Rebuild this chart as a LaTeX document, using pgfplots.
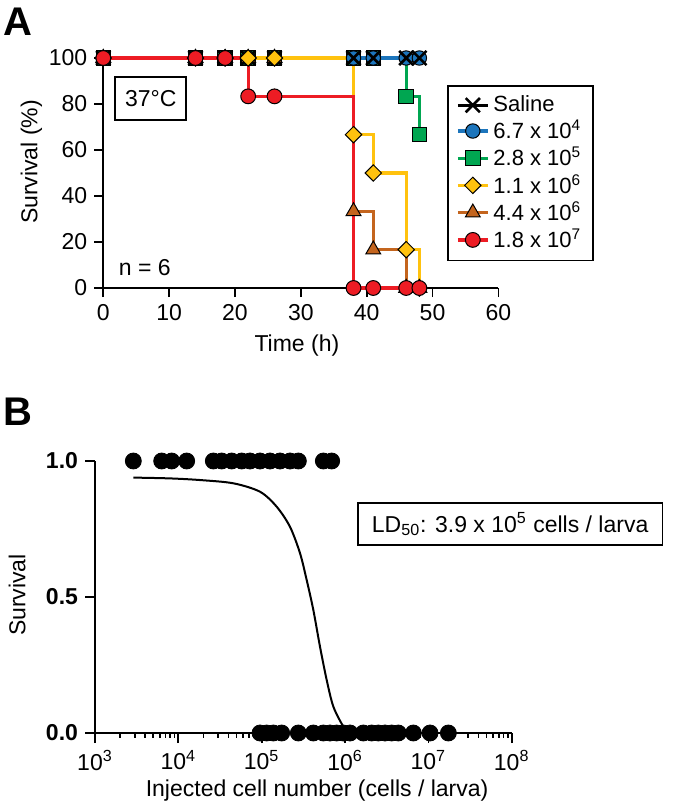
\documentclass[border=0pt]{standalone}
\usepackage{fontspec}
\setmainfont{Liberation Sans}
\usepackage{pgfplots}
\pgfplotsset{compat=1.18}

\definecolor{myred}{RGB}{237,28,36}
\definecolor{myyellow}{RGB}{255,194,14}
\definecolor{mygreen}{RGB}{0,166,81}
\definecolor{mybrown}{RGB}{196,101,30}
\definecolor{myblue}{RGB}{28,117,188}

\newcommand{\fs}{\fontsize{11.5}{13.5}\selectfont}

\begin{document}
\begin{tikzpicture}[x=1pt,y=1pt]
\path[use as bounding box] (0,0) rectangle (342.5,405.5);
\node[font=\fontsize{20}{24}\selectfont\bfseries] at (9,394.5) {A};
\node[font=\fontsize{20}{24}\selectfont\bfseries] at (9,199.5) {B};

\begin{axis}[
  at={(51.65pt,261.5pt)}, anchor=south west,
  scale only axis, width=197.55pt, height=115pt,
  xmin=0, xmax=60, ymin=0, ymax=100,
  axis lines=left, axis line style={-, line width=0.85pt},
  xtick={0,10,...,60}, ytick={0,20,...,100},
  tick align=outside, major tick length=4.5pt,
  tick style={line width=0.85pt, black},
  clip=false,
  ticklabel style={font=\fs},
  /pgf/number format/assume math mode=true,
  xlabel={Time (h)}, ylabel={Survival (\%)},
  xlabel style={at={(axis description cs:0.49,-0.25)}, anchor=center, font=\fs},
  ylabel style={at={(axis description cs:-0.182,0.548)}, anchor=center, font=\fs},
  legend style={at={(axis description cs:0.871,0.883)}, anchor=north west,
    draw=black, line width=0.8pt, font=\fontsize{11}{13}\selectfont,
    row sep=-1.2pt, inner xsep=4pt, inner ysep=3pt,
    cells={anchor=west}},
  legend image code/.code={\draw[mark repeat=2,mark phase=2,#1] plot coordinates {(0pt,0pt) (7.5pt,0pt) (15pt,0pt)};},
]
% legend entries
\addlegendimage{black, line width=1.6pt, mark=x, mark size=5pt, mark options={line width=1.3pt}}
\addlegendentry{Saline}
\addlegendimage{myblue, line width=1.6pt, mark=*, mark size=3.6pt, mark options={fill=myblue, draw=black, line width=0.5pt}}
\addlegendentry{6.7 x 10\textsuperscript{4}}
\addlegendimage{mygreen, line width=1.6pt, mark=square*, mark size=3.6pt, mark options={fill=mygreen, draw=black, line width=0.5pt}}
\addlegendentry{2.8 x 10\textsuperscript{5}}
\addlegendimage{myyellow, line width=1.6pt, mark=square*, mark size=2.9pt, mark options={rotate=45, fill=myyellow, draw=black, line width=0.5pt}}
\addlegendentry{1.1 x 10\textsuperscript{6}}
\addlegendimage{mybrown, line width=1.6pt, mark=triangle*, mark size=4.3pt, mark options={fill=mybrown, draw=black, line width=0.5pt}}
\addlegendentry{4.4 x 10\textsuperscript{6}}
\addlegendimage{myred, line width=1.6pt, mark=*, mark size=3.7pt, mark options={fill=myred, draw=black, line width=0.5pt}}
\addlegendentry{1.8 x 10\textsuperscript{7}}

% saline line
\addplot[forget plot, black, line width=1.6pt, const plot] coordinates {
(0,100) (14,100) (18.5,100) (22,100) (26,100) (38,100) (41,100) (46,100) (48,100)};
% green 2.8e5
\addplot[forget plot, mygreen, line width=1.6pt, const plot, mark=square*, mark size=3.6pt, mark options={fill=mygreen, draw=black, line width=0.5pt}] coordinates {
(0,100) (14,100) (18.5,100) (22,100) (26,100) (38,100) (41,100) (46,83.33) (48,66.67)};
% blue 6.7e4
\addplot[forget plot, myblue, line width=1.6pt, const plot, mark=*, mark size=3.6pt, mark options={fill=myblue, draw=black, line width=0.5pt}] coordinates {
(0,100) (14,100) (18.5,100) (22,100) (26,100) (38,100) (41,100) (46,100) (48,100)};
% saline marks
\addplot[forget plot, only marks, black, mark=x, mark size=5pt, mark options={line width=1.3pt}] coordinates {
(0,100) (14,100) (18.5,100) (22,100) (26,100) (38,100) (41,100) (46,100) (48,100)};
% brown 4.4e6
\addplot[forget plot, mybrown, line width=1.6pt, const plot, mark=triangle*, mark size=4.3pt, mark options={fill=mybrown, draw=black, line width=0.5pt}] coordinates {
(0,100) (14,100) (18.5,100) (22,100) (26,100) (38,33.33) (41,16.67) (46,0) (48,0)};
% yellow 1.1e6
\addplot[forget plot, myyellow, line width=1.6pt, const plot, mark=square*, mark size=2.9pt, mark options={rotate=45, fill=myyellow, draw=black, line width=0.5pt}] coordinates {
(0,100) (14,100) (18.5,100) (22,100) (26,100) (38,66.67) (41,50) (46,16.67) (48,0)};
% red 1.8e7
\addplot[forget plot, myred, line width=1.6pt, const plot, mark=*, mark size=3.7pt, mark options={fill=myred, draw=black, line width=0.5pt}] coordinates {
(0,100) (14,100) (18.5,100) (22,83.33) (26,83.33) (38,0) (41,0) (46,0) (48,0)};

\node[draw, line width=0.8pt, minimum width=35.5pt, minimum height=21.5pt, inner sep=1pt, font=\fs] at (axis cs:7.2,82.4) {37°C};
\node[font=\fs] at (axis cs:6.3,8.7) {n = 6};
\end{axis}

\begin{axis}[
  at={(47.5pt,39pt)}, anchor=south west,
  scale only axis, width=208.35pt, height=136pt,
  xmode=log, xmin=1e3, xmax=1e8, ymin=0, ymax=1,
  axis lines=left, axis line style={-, line width=0.85pt},
  xtick={1e3,1e4,1e5,1e6,1e7,1e8},
  xticklabels={10\textsuperscript{3},10\textsuperscript{4},10\textsuperscript{5},10\textsuperscript{6},10\textsuperscript{7},10\textsuperscript{8}},
  minor xtick={2000,3000,4000,5000,6000,7000,8000,9000,
    20000,30000,40000,50000,60000,70000,80000,90000,
    200000,300000,400000,500000,600000,700000,800000,900000,
    2000000,3000000,4000000,5000000,6000000,7000000,8000000,9000000,
    20000000,30000000,40000000,50000000,60000000,70000000,80000000,90000000},
  ytick={0,0.5,1}, yticklabels={\textbf{0.0},\textbf{0.5},\textbf{1.0}},
  tick align=outside, major tick length=5pt, minor tick length=2.5pt,
  tick style={line width=0.85pt, black},
  clip=false,
  ticklabel style={font=\fs},
  /pgf/number format/assume math mode=true,
  xlabel={Injected cell number (cells / larva)}, ylabel={Survival},
  xlabel style={at={(axis description cs:0.533,-0.213)}, anchor=center, font=\fs},
  ylabel style={at={(axis description cs:-0.187,0.507)}, anchor=center, font=\fs},
]
\addplot[black, line width=1pt, smooth, tension=0.5] coordinates {
(2884,0.939) (7943,0.936) (18197,0.930) (45709,0.918) (95499,0.887)
(151356,0.832) (218776,0.758) (288403,0.661) (346737,0.5625) (416869,0.452)
(501187,0.317) (602560,0.195) (724436,0.097) (954993,0.023) (1096478,0.0)};
\addplot[only marks, mark=*, mark size=4pt, black] coordinates {
(2884,1) (6310,1) (8318,1) (12589,1) (26303,1) (33113,1) (43652,1) (57544,1)
(72444,1) (95499,1) (125893,1) (165959,1) (218776,1) (275423,1) (549541,1) (691831,1)};
\addplot[only marks, mark=*, mark size=4pt, black] coordinates {
(95499,0) (114815,0) (138038,0) (173780,0) (275423,0) (416869,0) (549541,0)
(660693,0) (794328,0) (954993,0) (1148154,0) (1659587,0) (2089296,0) (2511886,0)
(3019952,0) (3630781,0) (4365158,0) (6606934,0) (10471285,0) (17378008,0)};
\node[draw, line width=0.8pt, anchor=west, inner xsep=7pt, minimum height=21pt, font=\fs] at (axis description cs:0.629,0.768) {LD\textsubscript{50}: 3.9 x 10\textsuperscript{5} cells / larva};
\end{axis}
\end{tikzpicture}
\end{document}
